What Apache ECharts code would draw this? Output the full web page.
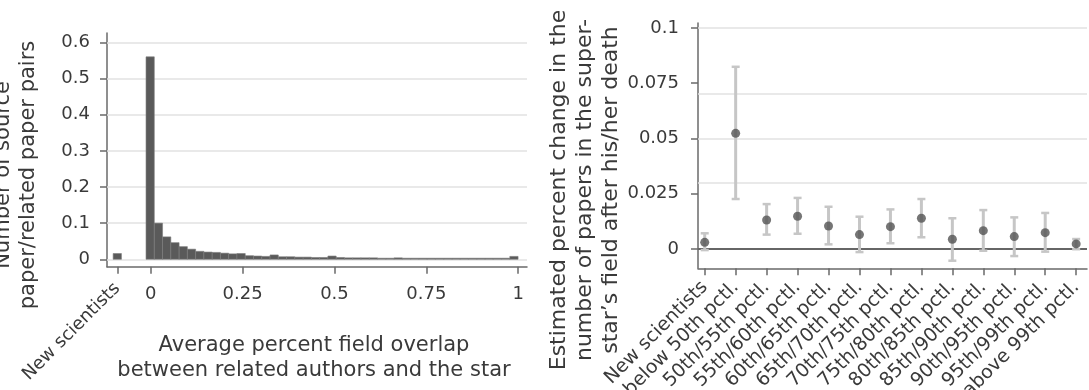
<!DOCTYPE html>
<html><head><meta charset="utf-8">
<script src="https://cdn.jsdelivr.net/npm/echarts@6/dist/echarts.min.js"></script>
<style>html,body{margin:0;padding:0;background:#fff}#c{width:1089px;height:390px}</style>
</head><body><div id="c"></div>
<script>
// ---------- Left panel: histogram ----------
const histBinStart = -0.0128;
const histBinWidth = 0.0225;
const histHeights = [0.560,0.100,0.062,0.046,0.035,0.028,0.022,0.020,0.019,0.017,
                     0.015,0.016,0.010,0.009,0.008,0.012,0.007,0.007,0.006,0.006,
                     0.005,0.005,0.009,0.005,0.004,0.004,0.004,0.004,0.003,0.003,
                     0.004,0.003,0.003,0.003,0.003,0.003,0.003,0.003,0.003,0.003,
                     0.003,0.003,0.003,0.003,0.008];
const newSciPos = -0.091;
const newSciHeight = 0.016;
const leftXTicks = [0, 0.25, 0.5, 0.75, 1];
const leftYTicks = [0, 0.1, 0.2, 0.3, 0.4, 0.5, 0.6];

// ---------- Right panel: estimates with CIs ----------
const catLabels = ['New scientists','below 50th pctl.','50th/55th pctl.','55th/60th pctl.','60th/65th pctl.',
  '65th/70th pctl.','70th/75th pctl.','75th/80th pctl.','80th/85th pctl.','85th/90th pctl.',
  '90th/95th pctl.','95th/99th pctl.','above 99th pctl.'];
const estimates = [0.0030,0.0523,0.0131,0.0148,0.0104,0.0065,0.0101,0.0139,0.0044,0.0083,0.0056,0.0074,0.0023];
const ciLow  = [-0.0005,0.0226,0.0065,0.0069,0.0021,-0.0014,0.0026,0.0053,-0.0053,-0.0008,-0.0032,-0.0012,-0.0001];
const ciHigh = [0.0071,0.0824,0.0203,0.0231,0.0191,0.0146,0.0179,0.0226,0.0139,0.0176,0.0143,0.0163,0.0045];
const rightYTicks = [0, 0.025, 0.05, 0.075, 0.1];

// ---------- build ----------
const FONT = 'DejaVu Sans';
const TXT = '#3a3a3a';
const AX = '#6a6a6a';
const GRIDC = '#e2e2e2';
const TICKFS = 18;

const barData = histHeights.map((h, i) => [histBinStart + i * histBinWidth, histBinStart + (i + 1) * histBinWidth, h]);
barData.push([newSciPos - histBinWidth / 2, newSciPos + histBinWidth / 2, newSciHeight]);
const catIdx = catLabels.map((_, i) => i);
const ciData = catIdx.map(i => [i, ciLow[i], ciHigh[i]]);
const ptData = catIdx.map(i => [i, estimates[i]]);

const fmtNum = v => String(+v.toFixed(4));
const axisLineStyle = { color: AX, width: 1.5 };

const chart = echarts.init(document.getElementById('c'), null, { renderer: 'canvas' });
chart.setOption({
  animation: false,
  backgroundColor: '#fff',
  textStyle: { fontFamily: FONT },
  grid: [
    { left: 107, top: 33, width: 420, height: 233.7, containLabel: false, outerBoundsMode: 'none' },
    { left: 698, top: 23, width: 389, height: 245.3, containLabel: false, outerBoundsMode: 'none' }
  ],
  xAxis: [
    { type: 'value', gridIndex: 0, position: 'bottom', min: -0.119, max: 1.024,
      axisLine: { show: true, onZero: false, lineStyle: axisLineStyle },
      axisTick: { show: true, length: 7, lineStyle: axisLineStyle, customValues: [newSciPos].concat(leftXTicks) },
      axisLabel: { customValues: leftXTicks, formatter: fmtNum, color: TXT, fontSize: TICKFS, fontFamily: FONT, margin: 19 },
      splitLine: { show: false } },
    { type: 'value', gridIndex: 0, position: 'bottom', min: -0.119, max: 1.024,
      axisLine: { show: false, onZero: false }, axisTick: { show: false },
      axisLabel: { customValues: [newSciPos], formatter: () => 'New scientists', rotate: 45,
                   color: TXT, fontSize: TICKFS, fontFamily: FONT, margin: 19 },
      splitLine: { show: false } },
    { type: 'value', gridIndex: 1, position: 'bottom', min: -0.217, max: 12.35,
      axisLine: { show: true, onZero: false, lineStyle: axisLineStyle },
      axisTick: { show: true, length: 7, lineStyle: axisLineStyle, customValues: catIdx },
      axisLabel: { customValues: catIdx, formatter: v => catLabels[Math.round(v)], rotate: 45,
                   color: TXT, fontSize: 19, fontFamily: FONT, margin: 16 },
      splitLine: { show: false } }
  ],
  yAxis: [
    { type: 'value', gridIndex: 0, min: -0.0205, max: 0.626,
      axisLine: { show: true, onZero: false, lineStyle: axisLineStyle },
      axisTick: { show: true, length: 7, lineStyle: axisLineStyle, customValues: leftYTicks },
      axisLabel: { customValues: leftYTicks, formatter: fmtNum, color: TXT, fontSize: TICKFS, fontFamily: FONT, margin: 17 },
      splitLine: { show: false } },
    { type: 'value', gridIndex: 1, min: -0.00873, max: 0.1022,
      axisLine: { show: true, onZero: false, lineStyle: axisLineStyle },
      axisTick: { show: true, length: 7, lineStyle: axisLineStyle, customValues: rightYTicks },
      axisLabel: { customValues: rightYTicks, formatter: fmtNum, color: TXT, fontSize: TICKFS, fontFamily: FONT, margin: 19 },
      splitLine: { show: false } }
  ],
  series: [
    { type: 'line', xAxisIndex: 0, yAxisIndex: 0, data: [], z: 1, silent: true,
      markLine: { z: 1, silent: true, symbol: 'none', label: { show: false },
        lineStyle: { color: GRIDC, width: 1.5, type: 'solid' },
        data: leftYTicks.map(v => ({ yAxis: v })) } },
    { type: 'custom', xAxisIndex: 0, yAxisIndex: 0, z: 3, data: barData,
      encode: { x: [0, 1], y: 2 },
      renderItem: (params, api) => {
        const p0 = api.coord([api.value(0), api.value(2)]);
        const p1 = api.coord([api.value(1), 0]);
        return { type: 'rect', shape: { x: p0[0], y: p0[1], width: p1[0] - p0[0], height: p1[1] - p0[1] },
                 style: { fill: '#5a5a5a', stroke: '#7c7c7c', lineWidth: 0.6 } };
      } },
    { type: 'line', xAxisIndex: 2, yAxisIndex: 1, data: [], z: 1, silent: true,
      markLine: { z: 1, silent: true, symbol: 'none', label: { show: false },
        data: rightYTicks.map(v => ({ yAxis: v, lineStyle: v === 0 ? { color: '#666', width: 2.2, type: 'solid' } : { color: GRIDC, width: 1.5, type: 'solid' } })) } },
    { type: 'custom', xAxisIndex: 2, yAxisIndex: 1, z: 3, data: ciData,
      encode: { x: 0, y: [1, 2] },
      renderItem: (params, api) => {
        const a = api.coord([api.value(0), api.value(2)]);
        const b = api.coord([api.value(0), api.value(1)]);
        const cw = 4;
        const st = { stroke: '#c6c6c6', lineWidth: 3 };
        return { type: 'group', children: [
          { type: 'line', shape: { x1: a[0], y1: a[1], x2: b[0], y2: b[1] }, style: st },
          { type: 'line', shape: { x1: a[0] - cw, y1: a[1], x2: a[0] + cw, y2: a[1] }, style: { stroke: '#c6c6c6', lineWidth: 2.5 } },
          { type: 'line', shape: { x1: b[0] - cw, y1: b[1], x2: b[0] + cw, y2: b[1] }, style: { stroke: '#c6c6c6', lineWidth: 2.5 } }
        ] };
      } },
    { type: 'scatter', xAxisIndex: 2, yAxisIndex: 1, z: 4, data: ptData, symbol: 'circle', symbolSize: 9,
      itemStyle: { color: '#525252' } }
  ],
  graphic: [
    { type: 'text', x: 16, y: 175, rotation: Math.PI / 2,
      style: { text: 'Number of source\npaper/related paper pairs', font: '21px "DejaVu Sans"', fill: TXT,
               align: 'center', verticalAlign: 'middle', lineHeight: 25 } },
    { type: 'text', x: 314, y: 358,
      style: { text: 'Average percent field overlap\nbetween related authors and the star', font: '21px "DejaVu Sans"', fill: TXT,
               align: 'center', verticalAlign: 'middle', lineHeight: 25 } },
    { type: 'text', x: 585, y: 190, rotation: Math.PI / 2,
      style: { text: 'Estimated percent change in the\nnumber of papers in the super-\nstar\u2019s field after his/her death', font: '22px "DejaVu Sans"', fill: TXT,
               align: 'center', verticalAlign: 'middle', lineHeight: 26 } }
  ]
});
</script></body></html>
